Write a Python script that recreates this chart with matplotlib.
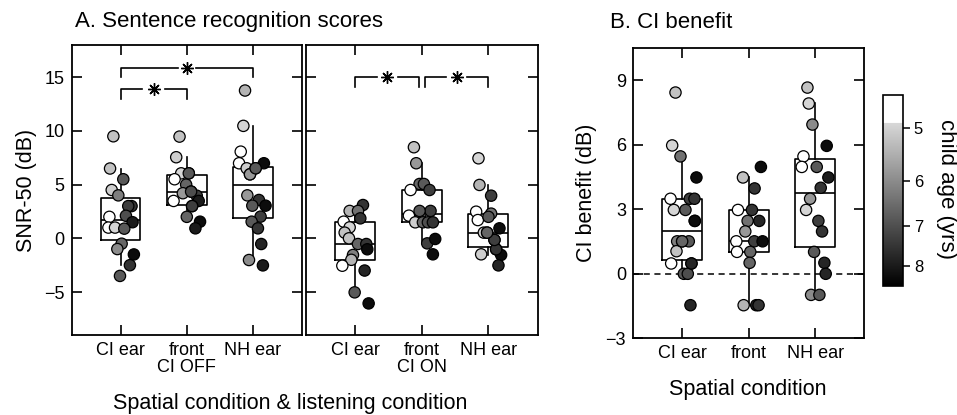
import numpy as np
import matplotlib
matplotlib.use('Agg')
import matplotlib.pyplot as plt
from matplotlib.colors import LinearSegmentedColormap, LogNorm
from matplotlib.ticker import NullLocator

plt.rcParams['font.family'] = ['Liberation Sans', 'DejaVu Sans']

# ---------------- data ----------------
spatial = ['CI ear', 'front', 'NH ear']
off_ticklabels = ['CI ear', 'front\nCI OFF', 'NH ear']
on_ticklabels = ['CI ear', 'front\nCI ON', 'NH ear']

# Panel A, CI OFF (SNR-50, dB)
snr_off_ci = [9.5, 6.5, 5.5, 4.5, 4.0, 3.0, 3.0, 2.0, 2.1, 1.5, 1.0, 1.0, 0.9,
              -0.5, -1.0, -1.5, -2.5, -3.5]
age_off_ci = [5.2, 5.2, 6.8, 5.05, 6.2, 7.5, 7.3, 4.7, 7.0, 8.0, 4.7, 4.95, 6.8,
              6.6, 6.0, 8.3, 7.5, 6.8]
snr_off_front = [9.47, 7.55, 6.05, 6.05, 5.5, 5.0, 4.35, 4.2, 3.97, 3.48, 3.48, 3.0,
                 2.0, 1.55, 0.93, 4.35, 3.0, 6.05]
age_off_front = [5.2, 5.05, 6.8, 4.95, 4.7, 6.6, 7.0, 5.8, 7.3, 4.7, 8.0, 7.3,
                 6.6, 8.3, 8.0, 7.0, 7.3, 6.8]
snr_off_nh = [13.76, 10.47, 8.07, 6.99, 6.52, 6.52, 5.96, 6.99, 4.0, 3.57, 3.04, 3.04,
              2.02, 1.55, 0.93, -0.53, -2.02, -2.52, 5.96, 6.52]
age_off_nh = [5.4, 4.95, 4.7, 4.7, 5.05, 6.8, 5.8, 8.3, 5.8, 7.5, 6.8, 8.3,
              7.3, 6.8, 7.5, 7.8, 6.0, 8.0, 5.8, 6.8]

# Panel A, CI ON (SNR-50, dB)
snr_on_ci = [3.1, 2.55, 2.55, 1.86, 1.55, 1.02, 0.53, 0.0, -0.53, -0.53, -1.02, -1.55,
             -2.0, -2.55, -3.0, -5.03, -6.06]
age_on_ci = [7.5, 5.4, 6.4, 7.5, 4.7, 4.95, 5.2, 5.2, 6.6, 7.5, 8.3, 6.2,
             5.4, 4.7, 7.8, 6.8, 8.3]
snr_on_front = [8.48, 6.99, 5.06, 5.06, 4.5, 4.5, 2.11, 2.3, 2.55, 2.55, 1.49, 1.49,
                1.49, 1.49, -0.47, -0.06, -1.49]
age_on_front = [5.2, 5.8, 6.6, 6.8, 4.7, 7.3, 4.7, 6.8, 7.3, 6.8, 5.05, 6.6,
                7.0, 7.5, 7.3, 8.3, 8.3]
snr_on_nh = [7.45, 4.97, 3.97, 2.48, 1.7, 2.3, 2.0, 0.53, 0.53, 0.93, -0.15, -1.02,
             -1.55, -1.49, -2.52, -1.02, -0.15, 0.53]
age_on_nh = [4.95, 5.4, 7.3, 4.7, 4.85, 6.4, 6.8, 5.05, 6.6, 8.3, 7.3, 7.5,
             8.3, 5.05, 7.8, 7.5, 7.3, 6.6]

# Panel B, CI benefit (dB)
ben_ci = [8.43, 5.97, 5.46, 4.48, 3.49, 3.49, 3.49, 2.97, 2.97, 2.46, 1.51, 1.51,
          1.51, 1.05, 0.48, 0.48, 0.0, 0.0, -1.46, 1.51, 0.48, 2.46]
age_ben_ci = [5.2, 4.95, 6.4, 8.3, 4.7, 7.3, 7.5, 4.95, 6.8, 8.3, 6.2, 6.6,
              6.8, 5.2, 4.7, 7.8, 6.8, 7.0, 7.8, 6.6, 7.8, 8.3]
ben_front = [4.48, 4.97, 3.97, 2.97, 2.97, 2.46, 2.46, 1.97, 1.51, 1.51, 1.51, 1.02,
             1.02, 0.51, -1.46, -1.46, -1.46]
age_ben_front = [5.2, 8.3, 7.5, 4.7, 7.5, 6.4, 7.8, 5.8, 4.7, 7.3, 8.3, 4.7,
                 6.6, 6.6, 5.4, 7.8, 7.5]
ben_nh = [8.66, 7.92, 6.94, 5.95, 5.46, 4.97, 4.97, 4.48, 4.0, 3.49, 2.97, 2.46,
          1.97, 1.02, 0.51, 0.0, -0.98, -0.98]
age_ben_nh = [5.2, 4.95, 6.0, 8.3, 4.7, 4.7, 6.8, 8.0, 7.5, 5.8, 4.95, 7.3,
              7.5, 6.8, 7.8, 7.8, 6.0, 6.8]

age_ticks = [5, 6, 7, 8]

# ---------------- layout / style (not data) ----------------
jit_off_ci = [-0.11, -0.16, 0.04, -0.135, -0.035, 0.165, 0.115, -0.17, 0.08, 0.18,
              -0.185, -0.085, 0.055, 0.015, -0.05, 0.2, 0.14, -0.01]
jit_off_front = [-0.11, -0.16, 0.03, -0.085, -0.185, -0.01, 0.065, -0.06, 0.15, -0.2,
                 0.18, 0.08, 0.0, 0.2, 0.13, 0.065, 0.08, 0.03]
jit_off_nh = [-0.12, -0.145, -0.185, -0.21, -0.095, 0.04, -0.045, 0.165, -0.085, 0.09,
              -0.01, 0.19, 0.115, -0.02, 0.075, 0.125, -0.06, 0.15, -0.045, 0.04]
jit_on_ci = [0.115, -0.085, 0.04, 0.075, -0.175, -0.085, -0.16, -0.095, 0.04, 0.165,
             0.18, -0.035, -0.06, -0.195, 0.14, -0.01, 0.2]
jit_on_front = [-0.12, -0.085, -0.035, 0.03, -0.17, 0.115, -0.195, -0.02, 0.13, -0.035,
                -0.1, 0.015, 0.09, 0.165, 0.08, 0.2, 0.165]
jit_on_nh = [-0.15, -0.135, 0.04, -0.185, -0.16, 0.04, 0.0, -0.07, -0.02, 0.165,
             0.09, 0.115, 0.19, -0.11, 0.15, 0.115, 0.09, -0.02]
jit_ben_ci = [-0.1, -0.15, -0.025, 0.215, -0.175, 0.115, 0.185, -0.125, 0.05, 0.19,
              -0.075, 0.0, 0.1, -0.085, -0.165, 0.14, 0.025, 0.085, 0.125, 0.0, 0.14, 0.19]
jit_ben_front = [-0.085, 0.185, 0.09, -0.16, 0.05, -0.015, 0.16, -0.05, -0.185, 0.085,
                 0.21, -0.175, 0.025, 0.015, -0.075, 0.115, 0.15]
jit_ben_nh = [-0.115, -0.095, -0.04, 0.175, -0.175, -0.2, 0.025, 0.2, 0.085, -0.075,
              -0.135, 0.05, 0.105, -0.015, 0.14, 0.16, -0.06, 0.065]

norm = LogNorm(vmin=4.47, vmax=8.57)
wcut = 0.141
cmap = LinearSegmentedColormap.from_list(
    'age', [(0.0, (1, 1, 1)), (wcut, (1, 1, 1)), (wcut + 0.002, (0.85, 0.85, 0.85)),
            (1.0, (0, 0, 0))])

LW = 1.2
fig = plt.figure(figsize=(9.57, 4.15), dpi=100)
axL = fig.add_axes([0.0749, 0.1928, 0.2406, 0.6988])
axR = fig.add_axes([0.3198, 0.1928, 0.2421, 0.6988])
axB = fig.add_axes([0.6614, 0.1848, 0.2417, 0.6995])
cax = fig.add_axes([0.9224, 0.3116, 0.0209, 0.4595])

positions = [1, 2, 3]


def draw_panel(ax, groups, ages, jits, ticklabels, ylim, yticks):
    ax.boxplot(groups, positions=positions, widths=0.6, whis=(5, 95),
               showfliers=False, showcaps=False, manage_ticks=False,
               boxprops=dict(color='black', lw=LW),
               whiskerprops=dict(color='black', lw=LW),
               medianprops=dict(color='black', lw=LW), zorder=2)
    sc = None
    for p, v, a, j in zip(positions, groups, ages, jits):
        x = p + np.asarray(j)
        sc = ax.scatter(x, v, c=a, cmap=cmap, norm=norm, s=66,
                        edgecolors='black', linewidths=0.9, zorder=3)
    ax.set_xlim(0.26, 3.74)
    ax.set_ylim(*ylim)
    ax.set_yticks(yticks)
    ax.set_xticks(positions)
    ax.set_xticklabels(ticklabels)
    for lbl in ax.get_xticklabels():
        lbl.set_linespacing(1.0)
    ax.tick_params(direction='in', top=True, right=True, length=7, width=LW,
                   labelsize=13, pad=5)
    for s in ax.spines.values():
        s.set_linewidth(1.3)
    return sc


def bracket(ax, i, j, y, drop, gap):
    xm = (i + j) / 2.0
    ax.plot([i, i, xm - gap], [y - drop, y, y], color='black', lw=LW, zorder=4)
    ax.plot([xm + gap, j, j], [y, y, y - drop], color='black', lw=LW, zorder=4)
    ax.plot([xm], [y], marker=(8, 2, 0), ms=9, mew=1.0, color='black', zorder=4)


sc = draw_panel(axL, [snr_off_ci, snr_off_front, snr_off_nh],
                [age_off_ci, age_off_front, age_off_nh],
                [jit_off_ci, jit_off_front, jit_off_nh],
                off_ticklabels, (-9, 18), [-5, 0, 5, 10, 15])
draw_panel(axR, [snr_on_ci, snr_on_front, snr_on_nh],
           [age_on_ci, age_on_front, age_on_nh],
           [jit_on_ci, jit_on_front, jit_on_nh],
           on_ticklabels, (-9, 18), [-5, 0, 5, 10, 15])
axR.tick_params(labelleft=False)
draw_panel(axB, [ben_ci, ben_front, ben_nh],
           [age_ben_ci, age_ben_front, age_ben_nh],
           [jit_ben_ci, jit_ben_front, jit_ben_nh],
           spatial, (-3, 10.5), [-3, 0, 3, 6, 9])
axB.axhline(0, color='black', lw=1.1, ls=(0, (4, 3)), zorder=1)

# significance brackets
bracket(axL, 1, 2, 13.9, 0.9, 0.17)
bracket(axL, 1, 3, 15.9, 0.9, 0.14)
bracket(axR, 1, 1.96, 15.0, 0.95, 0.16)
bracket(axR, 2.04, 3, 15.0, 0.95, 0.16)

axL.set_ylabel('SNR-50 (dB)', fontsize=15.5, labelpad=5)
axB.set_ylabel('CI benefit (dB)', fontsize=15.5, labelpad=6)
fig.text(75 / 957, 1 - 22 / 415, 'A. Sentence recognition scores', fontsize=16,
         ha='left', va='center')
fig.text(610 / 957, 1 - 22 / 415, 'B. CI benefit', fontsize=16, ha='left', va='center')
fig.text(290 / 957, 1 - 403 / 415, 'Spatial condition & listening condition',
         fontsize=15.5, ha='center', va='center')
fig.text(748 / 957, 1 - 389 / 415, 'Spatial condition', fontsize=15.5,
         ha='center', va='center')

cb = fig.colorbar(sc, cax=cax)
cb.set_ticks(age_ticks)
cb.set_ticklabels([str(t) for t in age_ticks])
cax.yaxis.set_minor_locator(NullLocator())
cax.invert_yaxis()
cax.tick_params(labelsize=12, length=5, width=1.1, direction='out', pad=3)
cb.outline.set_linewidth(1.2)
fig.text(946 / 957, 1 - 189 / 415, 'child age (yrs)', rotation=270, fontsize=16,
         ha='center', va='center')

fig.savefig('out.png', dpi=100)
